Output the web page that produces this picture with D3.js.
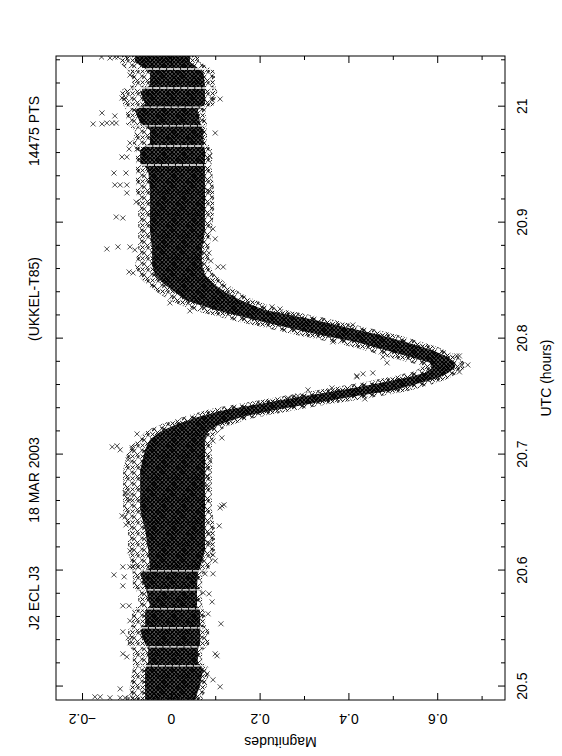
<!DOCTYPE html>
<html>
<head>
<meta charset="utf-8">
<script src="https://cdn.jsdelivr.net/npm/d3@7"></script>
<style>
  body { margin: 0; background: #fff; }
  svg text { font-family: "Liberation Sans", Arial, sans-serif; fill: #000; }
</style>
</head>
<body>
<svg id="chart" width="562" height="756"></svg>
<script>
/*
** Light curve J2 ECL J3, 18 March 2003, Ukkel T85.
** The figure is drawn as a landscape plot and then turned a quarter turn,
** the way the printed page looks.
*/

// title pieces
var titleParts = ["J2 ECL J3", "18 MAR 2003", "(UKKEL-T85)", "14475 PTS"];

// axis ticks
var utcMajor = [20.5, 20.6, 20.7, 20.8, 20.9, 21.0];
var utcLabels = ["20.5", "20.6", "20.7", "20.8", "20.9", "21"];
var magMajor = [-0.2, 0, 0.2, 0.4, 0.6];
var magLabels = ["\u22120.2", "0", "0.2", "0.4", "0.6"];
var magMinor = [-0.1, 0.1, 0.3, 0.5, 0.7];

var bandTime = [20.4886, 20.5015, 20.5153, 20.5205, 20.5317, 20.5368, 20.5480, 20.5532,
	20.5644, 20.5696, 20.5808, 20.5860, 20.5972, 20.6024, 20.6179, 20.6351, 20.6524,
	20.6696, 20.6868, 20.7041, 20.7127, 20.7196, 20.7256, 20.7325, 20.7385, 20.7446,
	20.7498, 20.7558, 20.7618, 20.7661, 20.7704, 20.7747, 20.7791, 20.7842, 20.7903,
	20.7972, 20.8032, 20.8101, 20.8161, 20.8204, 20.8247, 20.8291, 20.8334, 20.8403,
	20.8463, 20.8549, 20.8636, 20.8765, 20.8937, 20.9109, 20.9282, 20.9454, 20.9523,
	20.9627, 20.9687, 20.9799, 20.9859, 20.9972, 21.0023, 21.0127, 21.0187, 21.0299,
	21.0385, 21.0437];
var bandOuterLo = [-0.092, -0.087, -0.081, -0.081, -0.081, -0.092, -0.092, -0.083,
	-0.083, -0.069, -0.069, -0.081, -0.081, -0.085, -0.092, -0.092, -0.103,
	-0.103, -0.103, -0.092, -0.069, -0.051, -0.013, 0.043, 0.100, 0.190,
	0.268, 0.359, 0.449, 0.505, 0.550, 0.572, 0.561, 0.505, 0.449,
	0.381, 0.302, 0.223, 0.156, 0.111, 0.066, 0.032, 0.005, -0.024,
	-0.047, -0.069, -0.076, -0.069, -0.069, -0.069, -0.074, -0.074, -0.074,
	-0.074, -0.081, -0.076, -0.096, -0.096, -0.103, -0.110, -0.081, -0.087,
	-0.110, -0.110];
var bandInnerLo = [-0.058, -0.058, -0.058, -0.051, -0.051, -0.058, -0.069, -0.058,
	-0.058, -0.047, -0.054, -0.058, -0.069, -0.047, -0.051, -0.058, -0.069,
	-0.069, -0.069, -0.058, -0.047, -0.024, 0.009, 0.061, 0.122, 0.212,
	0.291, 0.386, 0.471, 0.527, 0.572, 0.588, 0.584, 0.539, 0.482,
	0.415, 0.336, 0.257, 0.190, 0.145, 0.100, 0.066, 0.032, 0.009,
	-0.013, -0.036, -0.042, -0.042, -0.047, -0.047, -0.047, -0.051, -0.069,
	-0.069, -0.047, -0.047, -0.069, -0.081, -0.058, -0.069, -0.047, -0.047,
	-0.081, -0.081];
var bandInnerHi = [0.055, 0.066, 0.073, 0.061, 0.061, 0.066, 0.066, 0.066,
	0.066, 0.059, 0.059, 0.059, 0.061, 0.066, 0.077, 0.077, 0.077,
	0.077, 0.077, 0.077, 0.077, 0.084, 0.106, 0.160, 0.235, 0.325,
	0.408, 0.505, 0.561, 0.602, 0.624, 0.640, 0.640, 0.624, 0.588,
	0.527, 0.471, 0.392, 0.325, 0.268, 0.212, 0.183, 0.156, 0.122,
	0.100, 0.077, 0.070, 0.070, 0.077, 0.077, 0.077, 0.077, 0.077,
	0.077, 0.073, 0.073, 0.066, 0.061, 0.077, 0.077, 0.077, 0.073,
	0.043, 0.043];
var bandOuterHi = [0.066, 0.077, 0.082, 0.066, 0.066, 0.082, 0.082, 0.073,
	0.073, 0.066, 0.066, 0.066, 0.066, 0.084, 0.095, 0.095, 0.088,
	0.088, 0.088, 0.088, 0.088, 0.100, 0.122, 0.178, 0.257, 0.347,
	0.437, 0.527, 0.584, 0.617, 0.640, 0.656, 0.656, 0.640, 0.606,
	0.550, 0.494, 0.415, 0.347, 0.291, 0.235, 0.205, 0.178, 0.145,
	0.122, 0.093, 0.082, 0.082, 0.088, 0.093, 0.093, 0.088, 0.088,
	0.088, 0.077, 0.077, 0.077, 0.073, 0.093, 0.100, 0.095, 0.095,
	0.059, 0.059];

// short breaks in the series (white seams across the cloud)
var gapTime = [20.5179, 20.5342, 20.5506, 20.5670, 20.5834, 20.5998,
	20.9497, 20.9661, 20.9834, 20.9997, 21.0161, 21.0325];

// stray points outside the cloud
var outTime = [21.0428, 21.0420, 21.0428, 21.0428, 21.0273, 21.0075, 21.0075, 21.0066, 21.0058,
	20.9946, 20.9920, 20.9851, 20.9851, 20.9859, 20.9859, 20.9859, 20.9773, 20.9687, 20.9635,
	20.9635, 20.9566, 20.9566, 20.9575, 20.9428, 20.9428, 20.9325, 20.9325, 20.9325, 20.9256,
	20.9273, 20.9178, 20.9049, 20.9040, 20.8946, 20.8860, 20.8773, 20.8791, 20.8791, 20.8765,
	20.8739, 20.8670, 20.8618, 20.8618, 20.8575, 20.8566,
	20.8239, 20.8308, 20.8256, 20.8274, 20.8196, 20.8118, 20.7972, 20.7851, 20.7851, 20.7773,
	20.7773, 20.7713, 20.7842, 20.7791, 20.7696, 20.7704, 20.7679, 20.7670, 20.7558, 20.7575,
	20.7480, 20.7506, 20.7489,
	20.7178, 20.7066, 20.7075, 20.7041, 20.7058, 20.7144, 20.7118, 20.6955, 20.6946, 20.6877,
	20.6817, 20.6739, 20.6670, 20.6661, 20.6610, 20.6472, 20.6463, 20.6558, 20.6567, 20.6541,
	20.6386, 20.6394, 20.6317, 20.6239, 20.6170, 20.6136, 20.6084, 20.6032, 20.6032, 20.6032,
	20.6032, 20.5963, 20.5946, 20.5972, 20.5972, 20.5868, 20.5808, 20.5799, 20.5696, 20.5696,
	20.5730, 20.5627, 20.5567, 20.5541, 20.5472, 20.5420, 20.5377, 20.5282, 20.5265, 20.5282,
	20.5256, 20.5110, 20.5058, 20.4998, 20.4980, 20.4911, 20.4911, 20.4903, 20.4903, 20.4903,
	20.4903];
var outMag = [-0.156, -0.137, -0.126, -0.119, -0.092, -0.110, -0.101, 0.111, 0.093,
	-0.155, -0.126, -0.175, -0.155, -0.144, -0.132, -0.123, 0.100, -0.092, -0.094,
	-0.076, -0.110, -0.099, 0.088, -0.128, -0.101, -0.126, -0.114, -0.099, -0.099,
	0.086, -0.078, -0.123, -0.108, 0.095, 0.100, -0.144, -0.119, -0.092, -0.081,
	0.086, 0.090, 0.106, 0.118, -0.094, -0.085,
	0.043, -0.002, 0.246, 0.228, 0.275, 0.410, 0.365, 0.650, 0.644, 0.669,
	0.655, 0.650, 0.478, 0.487, 0.433, 0.455, 0.419, 0.419, 0.309, 0.363,
	0.437, 0.286, 0.264,
	-0.076, -0.132, -0.121, -0.114, -0.087, 0.115, 0.095, -0.096, 0.088, 0.082,
	0.082, 0.082, -0.103, -0.096, -0.092, -0.110, -0.103, 0.115, 0.120, 0.111,
	0.109, -0.101, 0.086, 0.086, -0.092, 0.095, 0.100, -0.108, -0.092, -0.085,
	-0.074, -0.128, -0.105, 0.077, 0.095, -0.108, 0.073, 0.086, -0.108, -0.094,
	0.093, 0.084, -0.092, 0.113, -0.108, -0.096, -0.092, 0.100, 0.104, -0.108,
	-0.099, 0.082, 0.095, 0.111, -0.114, -0.171, -0.159, -0.137, -0.114, -0.103,
	-0.085];

// landscape size, before the quarter turn
var W = 756, H = 562;
var margin = {top: 56, right: 56, bottom: 57, left: 56};
var titleX = [158, 276, 457, 625];

var svg = d3.select("#chart");
var defs = svg.append("defs");

// texture for the edge of the cloud: loose, uneven crosses
defs.append("pattern")
	.attr("id", "xloose")
	.attr("width", 11).attr("height", 10)
	.attr("patternUnits", "userSpaceOnUse")
	.append("path")
		.attr("d", "M0.4,0.4L4.8,4.8M4.8,0.4L0.4,4.8" +
			"M5.8,2L10.2,6.4M10.2,2L5.8,6.4" +
			"M2.2,5.2L6.6,9.6M6.6,5.2L2.2,9.6" +
			"M7,0.2L10.4,3.6M10.4,0.2L7,3.6" +
			"M0.2,6.4L3.4,9.6M3.4,6.4L0.2,9.6")
		.attr("stroke", "#111")
		.attr("stroke-width", 0.9)
		.attr("fill", "none");

// texture for the core of the cloud: packed crosses
defs.append("pattern")
	.attr("id", "xpacked")
	.attr("width", 4).attr("height", 4)
	.attr("patternUnits", "userSpaceOnUse")
	.append("path")
		.attr("d", "M0,0L4,4M4,0L0,4")
		.attr("stroke", "#000")
		.attr("stroke-width", 1.8)
		.attr("fill", "none");

var plot = svg.append("g")
	.attr("transform", "translate(0," + W + ") rotate(-90)");

defs.append("clipPath")
	.attr("id", "frame")
	.append("rect")
		.attr("x", margin.left).attr("y", margin.top)
		.attr("width", W - margin.left - margin.right)
		.attr("height", H - margin.top - margin.bottom);

var x = d3.scaleLinear()
	.domain([20.4884, 21.0437])
	.range([margin.left, W - margin.right]);
var y = d3.scaleLinear()
	.domain([-0.2586, 0.7527])
	.range([margin.top, H - margin.bottom]);

var band = bandTime.map(function(t, i) {
	return {t: t, ol: bandOuterLo[i], il: bandInnerLo[i], ih: bandInnerHi[i], oh: bandOuterHi[i]};
});

var outerArea = d3.area()
	.x(function(d) {return x(d.t);})
	.y0(function(d) {return y(d.ol);})
	.y1(function(d) {return y(d.oh);});
var innerArea = d3.area()
	.x(function(d) {return x(d.t);})
	.y0(function(d) {return y(d.il);})
	.y1(function(d) {return y(d.ih);});

var data = plot.append("g").attr("clip-path", "url(#frame)");

// outer part of the cloud, with a ragged rim
data.append("path")
	.datum(band)
	.attr("fill", "url(#xloose)")
	.attr("stroke", "url(#xloose)")
	.attr("stroke-width", 4)
	.attr("d", outerArea);

// core of the cloud, softened at its edge
data.append("path")
	.datum(band)
	.attr("fill", "url(#xpacked)")
	.attr("stroke", "url(#xloose)")
	.attr("stroke-width", 3)
	.attr("d", innerArea);

// seams where the series breaks
var loAt = d3.scaleLinear().domain(bandTime).range(bandOuterLo);
var hiAt = d3.scaleLinear().domain(bandTime).range(bandOuterHi);
data.selectAll("line.gap")
	.data(gapTime)
	.enter()
	.append("line")
		.attr("class", "gap")
		.attr("x1", function(d) {return x(d);})
		.attr("x2", function(d) {return x(d);})
		.attr("y1", function(d) {return y(loAt(d)) - 4;})
		.attr("y2", function(d) {return y(hiAt(d)) + 4;})
		.attr("stroke", "#fff")
		.attr("stroke-width", 1.3)
		.attr("stroke-dasharray", "6,1");

// stray points
data.selectAll("path.pt")
	.data(outTime)
	.enter()
	.append("path")
		.attr("class", "pt")
		.attr("transform", function(d, i) {return "translate(" + x(d) + "," + y(outMag[i]) + ")";})
		.attr("d", "M-2.5,-2.5L2.5,2.5M2.5,-2.5L-2.5,2.5")
		.attr("stroke", "#222")
		.attr("stroke-width", 0.8);

// frame
plot.append("rect")
	.attr("x", margin.left).attr("y", margin.top)
	.attr("width", W - margin.left - margin.right)
	.attr("height", H - margin.top - margin.bottom)
	.attr("fill", "none")
	.attr("stroke", "#000")
	.attr("stroke-width", 1);

var utcMinor = d3.range(20.50, 21.045, 0.02).filter(function(v) {
	return Math.abs(v * 10 - Math.round(v * 10)) > 1e-6;
});

function tidy(g) {
	g.select(".domain").remove();
	g.attr("font-family", null).attr("font-size", 14);
	g.selectAll("line").attr("stroke", "#000");
}

// UTC axis (bottom of the landscape plot, right side of the page)
plot.append("g")
	.attr("transform", "translate(0," + (H - margin.bottom) + ")")
	.call(d3.axisBottom(x).tickValues(utcMajor)
		.tickFormat(function(d, i) {return utcLabels[i];})
		.tickSize(-7).tickPadding(12))
	.call(tidy);
plot.append("g")
	.attr("transform", "translate(0," + (H - margin.bottom) + ")")
	.call(d3.axisBottom(x).tickValues(utcMinor).tickFormat("").tickSize(-4))
	.call(tidy);
plot.append("g")
	.attr("transform", "translate(0," + margin.top + ")")
	.call(d3.axisTop(x).tickValues(utcMajor).tickFormat("").tickSize(-7))
	.call(tidy);
plot.append("g")
	.attr("transform", "translate(0," + margin.top + ")")
	.call(d3.axisTop(x).tickValues(utcMinor).tickFormat("").tickSize(-4))
	.call(tidy);

// magnitude axis (left of the landscape plot, bottom of the page)
var magAxis = plot.append("g")
	.attr("transform", "translate(" + margin.left + ",0)")
	.call(d3.axisLeft(y).tickValues(magMajor)
		.tickFormat(function(d, i) {return magLabels[i];})
		.tickSize(-7))
	.call(tidy);
magAxis.selectAll("text")
	.attr("x", 0)
	.attr("dy", null)
	.attr("text-anchor", "middle")
	.attr("transform", "translate(-14,0) rotate(-90)");
plot.append("g")
	.attr("transform", "translate(" + margin.left + ",0)")
	.call(d3.axisLeft(y).tickValues(magMinor).tickFormat("").tickSize(-4))
	.call(tidy);
plot.append("g")
	.attr("transform", "translate(" + (W - margin.right) + ",0)")
	.call(d3.axisRight(y).tickValues(magMajor).tickFormat("").tickSize(-7))
	.call(tidy);
plot.append("g")
	.attr("transform", "translate(" + (W - margin.right) + ",0)")
	.call(d3.axisRight(y).tickValues(magMinor).tickFormat("").tickSize(-4))
	.call(tidy);

// axis titles
plot.append("text")
	.attr("x", (margin.left + W - margin.right) / 2)
	.attr("y", 551)
	.attr("text-anchor", "middle")
	.attr("font-size", 14)
	.text("UTC (hours)");

plot.append("text")
	.attr("transform", "translate(19," + (margin.top + H - margin.bottom) / 2 + ") rotate(-90)")
	.attr("text-anchor", "middle")
	.attr("font-size", 14)
	.text("Magnitudes");

// title line
plot.selectAll("text.title")
	.data(titleParts)
	.enter()
	.append("text")
		.attr("class", "title")
		.attr("x", function(d, i) {return titleX[i];})
		.attr("y", 39)
		.attr("text-anchor", "middle")
		.attr("font-size", 14)
		.text(function(d) {return d;});
</script>
</body>
</html>
